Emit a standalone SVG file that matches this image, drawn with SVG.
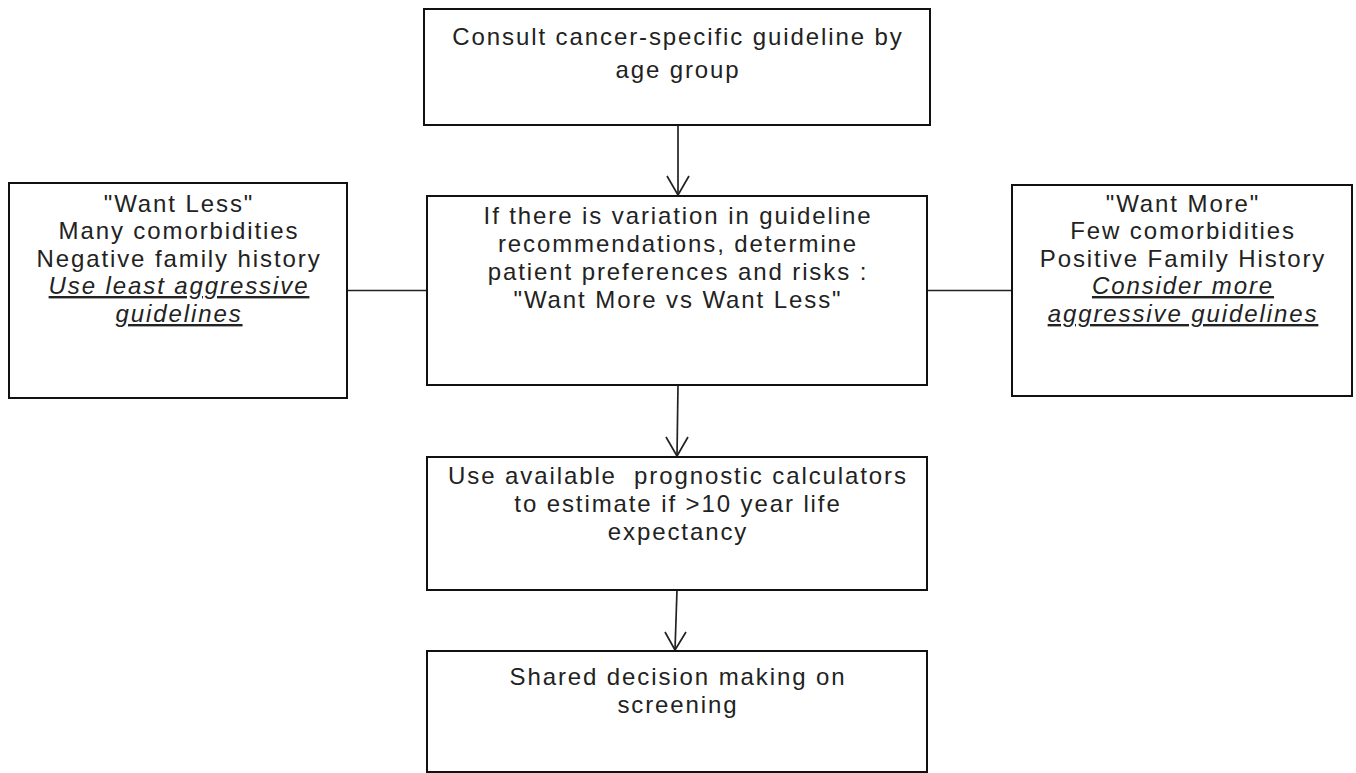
<svg xmlns="http://www.w3.org/2000/svg" width="1356" height="773" viewBox="0 0 1356 773">
<style>
.box{fill:#fff;stroke:#111;stroke-width:2}
.t{font-family:"Liberation Sans",Arial,sans-serif;font-size:24px;letter-spacing:1.9px;fill:#222;text-anchor:middle}
.u{font-style:italic;text-decoration:underline}
.c{stroke:#222;stroke-width:1.7;fill:none}
</style>
<rect width="1356" height="773" fill="#fff"/>
<g id="connectors">
<line class="c" x1="678" y1="125" x2="678" y2="195"/>
<path class="c" d="M667,176 L678,195 L689,176"/>
<line class="c" x1="678" y1="385" x2="677" y2="456"/>
<path class="c" d="M666,437 L677,456 L688,437"/>
<line class="c" x1="677" y1="590" x2="675" y2="650"/>
<path class="c" d="M665,632 L675,650 L686,632"/>
<line class="c" x1="347" y1="290.5" x2="427" y2="290.5"/>
<line class="c" x1="927" y1="290.5" x2="1012" y2="290.5"/>
</g>
<g id="n1">
<rect class="box" x="424" y="9" width="506" height="116"/>
<text class="t" x="678" y="45">Consult cancer-specific guideline by</text>
<text class="t" x="678" y="78">age group</text>
</g>
<g id="n2">
<rect class="box" x="427" y="196" width="500" height="189"/>
<text class="t" x="678" y="224">If there is variation in guideline</text>
<text class="t" x="678" y="252">recommendations, determine</text>
<text class="t" x="678" y="280">patient preferences and risks :</text>
<text class="t" x="678" y="308">"Want More vs Want Less"</text>
</g>
<g id="n3">
<rect class="box" x="9" y="183" width="338" height="215"/>
<text class="t" x="179" y="212">"Want Less"</text>
<text class="t" x="179" y="239">Many comorbidities</text>
<text class="t" x="179" y="267">Negative family history</text>
<text class="t u" x="179" y="294">Use least aggressive</text>
<text class="t u" x="179" y="322">guidelines</text>
</g>
<g id="n4">
<rect class="box" x="1012" y="185" width="340" height="211"/>
<text class="t" x="1183" y="212">"Want More"</text>
<text class="t" x="1183" y="239">Few comorbidities</text>
<text class="t" x="1183" y="267">Positive Family History</text>
<text class="t u" x="1183" y="294">Consider more</text>
<text class="t u" x="1183" y="322">aggressive guidelines</text>
</g>
<g id="n5">
<rect class="box" x="427" y="457" width="500" height="133"/>
<text class="t" x="678" y="484" xml:space="preserve">Use available  prognostic calculators</text>
<text class="t" x="678" y="512">to estimate if &gt;10 year life</text>
<text class="t" x="678" y="540">expectancy</text>
</g>
<g id="n6">
<rect class="box" x="427" y="651" width="500" height="121"/>
<text class="t" x="678" y="685">Shared decision making on</text>
<text class="t" x="678" y="713">screening</text>
</g>
</svg>
